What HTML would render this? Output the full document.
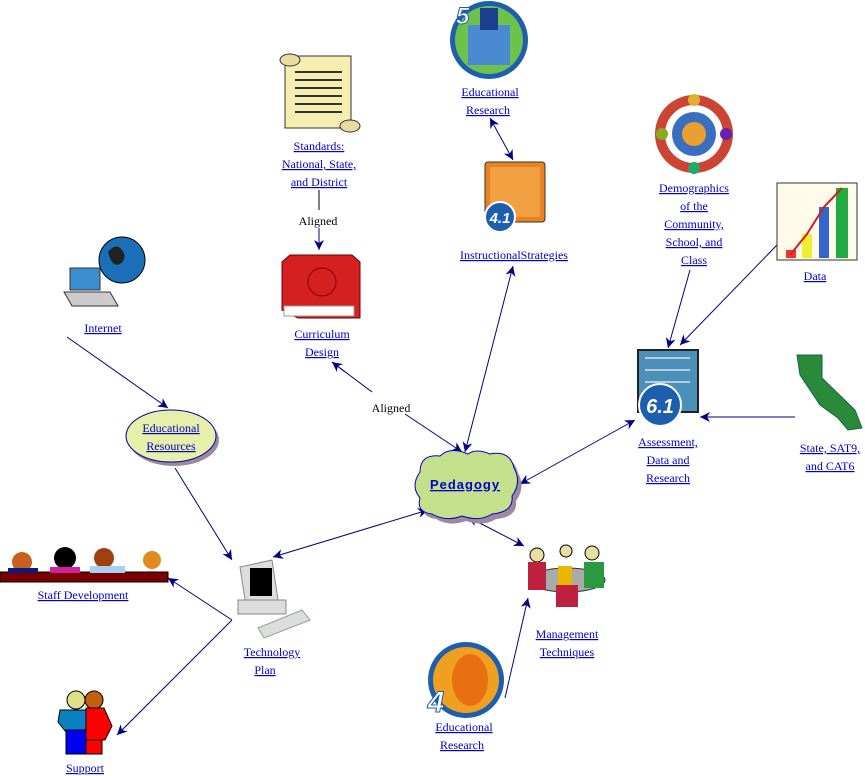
<!DOCTYPE html>
<html><head><meta charset="utf-8"><style>
html,body{margin:0;padding:0;background:#fff;}
svg{display:block;}
.l{font-family:"Liberation Serif",serif;font-size:12px;fill:#0000cc;text-decoration:underline;text-anchor:middle;}
.k{font-family:"Liberation Serif",serif;font-size:12px;fill:#000;text-anchor:middle;}
.c{stroke:#000080;stroke-width:1;fill:none;}
</style></head><body>
<svg width="865" height="776" viewBox="0 0 865 776" xmlns="http://www.w3.org/2000/svg">
<defs>
<marker id="a" viewBox="0 0 10 10" refX="10" refY="5" markerWidth="14" markerHeight="10" orient="auto-start-reverse" markerUnits="userSpaceOnUse"><path d="M0,0 L10,5 L0,10 L3,5 z" fill="#000080"/></marker>
</defs>

<!-- connectors -->
<line class="c" x1="490" y1="118" x2="513" y2="160" marker-start="url(#a)" marker-end="url(#a)"/>
<line class="c" x1="513" y1="266" x2="465" y2="452" marker-start="url(#a)" marker-end="url(#a)"/>
<line class="c" x1="332" y1="362" x2="372" y2="392"/>
<line class="c" x1="405" y1="414" x2="462" y2="452" marker-end="url(#a)"/>
<line class="c" x1="332" y1="362" x2="345" y2="372" marker-start="url(#a)"/>
<line class="c" x1="690" y1="270" x2="668" y2="348" marker-end="url(#a)"/>
<line class="c" x1="777" y1="245" x2="680" y2="345" marker-end="url(#a)"/>
<line class="c" x1="795" y1="417" x2="700" y2="417" marker-end="url(#a)"/>
<line class="c" x1="635" y1="420" x2="520" y2="484" marker-start="url(#a)" marker-end="url(#a)"/>
<line class="c" x1="67" y1="337" x2="168" y2="408" marker-end="url(#a)"/>
<line class="c" x1="175" y1="468" x2="232" y2="560" marker-end="url(#a)"/>
<line class="c" x1="428" y1="510" x2="273" y2="557" marker-start="url(#a)" marker-end="url(#a)"/>
<line class="c" x1="468" y1="517" x2="524" y2="546" marker-start="url(#a)" marker-end="url(#a)"/>
<line class="c" x1="232" y1="620" x2="168" y2="578" marker-end="url(#a)"/>
<line class="c" x1="232" y1="620" x2="117" y2="735" marker-end="url(#a)"/>
<line class="c" x1="505" y1="698" x2="528" y2="598" marker-end="url(#a)"/>
<line x1="319" y1="190" x2="319" y2="210" stroke="#000" stroke-width="1"/>
<line class="c" x1="319" y1="228" x2="319" y2="250" marker-end="url(#a)"/>
<text class="k" x="318" y="225">Aligned</text>
<text class="k" x="391" y="412">Aligned</text>

<!-- Ed research top icon -->
<circle cx="489" cy="40" r="39" fill="#1d5fae"/>
<circle cx="489" cy="40" r="34" fill="#6cc24a"/>
<rect x="468" y="25" width="42" height="40" fill="#4a8ad0"/>
<rect x="480" y="8" width="18" height="22" fill="#1a3f8f"/>
<text x="456" y="24" font-family="Liberation Sans,sans-serif" font-size="24" font-weight="bold" font-style="italic" fill="#fff" stroke="#1d5fae">5</text>
<text class="l" x="490" y="96">Educational</text>
<text class="l" x="488" y="114">Research</text>

<!-- instructional strategies -->
<rect x="485" y="162" width="60" height="60" rx="3" fill="#e8831f" stroke="#333"/>
<rect x="490" y="167" width="50" height="50" fill="#f0a040"/>
<circle cx="500" cy="217" r="15" fill="#1d5fae" stroke="#fff" stroke-width="2"/>
<text x="500" y="223" font-family="Liberation Sans,sans-serif" font-size="15" font-weight="bold" font-style="italic" fill="#fff" text-anchor="middle">4.1</text>
<text class="l" x="514" y="259">InstructionalStrategies</text>

<!-- standards scroll -->
<rect x="285" y="56" width="66" height="72" fill="#f6eeb0" stroke="#333"/>
<ellipse cx="290" cy="60" rx="10" ry="6" fill="#e8dca0" stroke="#333"/>
<ellipse cx="350" cy="126" rx="10" ry="6" fill="#e8dca0" stroke="#333"/>
<g stroke="#333" stroke-width="2"><line x1="295" y1="72" x2="342" y2="72"/><line x1="295" y1="80" x2="342" y2="80"/><line x1="295" y1="88" x2="342" y2="88"/><line x1="295" y1="96" x2="342" y2="96"/><line x1="295" y1="104" x2="342" y2="104"/><line x1="295" y1="112" x2="342" y2="112"/></g>
<text class="l" x="319" y="150">Standards:</text>
<text class="l" x="319" y="168">National, State,</text>
<text class="l" x="319" y="186">and District</text>

<!-- curriculum book -->
<polygon points="290,255 352,255 360,262 360,318 298,318 282,310 282,262" fill="#d42020" stroke="#600"/>
<rect x="284" y="306" width="70" height="10" fill="#fff" stroke="#999"/>
<circle cx="322" cy="282" r="14" fill="none" stroke="#800" />
<text class="l" x="322" y="338">Curriculum</text>
<text class="l" x="322" y="356">Design</text>

<!-- demographics -->
<circle cx="694" cy="134" r="34" fill="none" stroke="#c43" stroke-width="10"/>
<circle cx="694" cy="134" r="22" fill="#3a6fc0"/>
<circle cx="694" cy="134" r="12" fill="#e8a030"/>
<circle cx="694" cy="100" r="6" fill="#e0b030"/><circle cx="662" cy="134" r="6" fill="#8a2"/><circle cx="726" cy="134" r="6" fill="#62a"/><circle cx="694" cy="168" r="6" fill="#2a6"/>
<text class="l" x="694" y="192">Demographics</text>
<text class="l" x="694" y="210">of the</text>
<text class="l" x="694" y="228">Community,</text>
<text class="l" x="694" y="246">School, and</text>
<text class="l" x="694" y="264">Class</text>

<!-- data chart -->
<rect x="777" y="183" width="80" height="77" fill="#fffbe8" stroke="#333"/>
<rect x="786" y="250" width="10" height="8" fill="#e33"/>
<rect x="802" y="234" width="10" height="24" fill="#ee3"/>
<rect x="819" y="207" width="10" height="51" fill="#36c"/>
<rect x="836" y="188" width="12" height="70" fill="#2a4"/>
<polyline points="790,255 807,234 824,207 842,188" stroke="#c22" stroke-width="2" fill="none"/>
<text class="l" x="815" y="280">Data</text>

<!-- assessment -->
<rect x="638" y="350" width="60" height="62" fill="#4a90b8" stroke="#222" stroke-width="2"/>
<g stroke="#dde" stroke-width="1.5"><line x1="645" y1="358" x2="690" y2="358"/><line x1="645" y1="370" x2="690" y2="370"/><line x1="645" y1="382" x2="690" y2="382"/></g>
<circle cx="660" cy="405" r="21" fill="#1d5fae" stroke="#fff" stroke-width="2"/>
<text x="660" y="413" font-family="Liberation Sans,sans-serif" font-size="20" font-weight="bold" font-style="italic" fill="#fff" text-anchor="middle">6.1</text>
<text class="l" x="668" y="446">Assessment,</text>
<text class="l" x="668" y="464">Data and</text>
<text class="l" x="668" y="482">Research</text>

<!-- california -->
<polygon points="797,355 822,355 822,378 855,410 862,428 848,430 838,418 820,405 810,390 800,375" fill="#2a8a3a" stroke="#164"/>
<text class="l" x="830" y="452">State, SAT9,</text>
<text class="l" x="830" y="470">and CAT6</text>

<!-- internet -->
<circle cx="122" cy="260" r="23" fill="#1b6fb8" stroke="#000"/>
<path d="M108,252 q8,-10 14,-2 q6,8 -2,14 q-8,4 -12,-12z" fill="#222"/>
<polygon points="70,268 100,268 100,290 70,290" fill="#3a8fd0" stroke="#333"/>
<polygon points="64,292 110,292 118,306 72,306" fill="#ccc" stroke="#333"/>
<text class="l" x="103" y="332">Internet</text>

<!-- educational resources -->
<ellipse cx="174" cy="440" rx="45" ry="26" fill="#9a8a9a"/>
<ellipse cx="171" cy="436" rx="45" ry="26" fill="#e6f0a8" stroke="#0000aa"/>
<text class="l" x="171" y="432">Educational</text>
<text class="l" x="171" y="450">Resources</text>

<!-- pedagogy cloud -->
<g transform="translate(4,5)"><path d="M420,472 q0,-18 20,-16 q10,-10 28,-2 q8,-6 22,0 q20,-4 24,14 q8,14 -2,28 q2,16 -20,18 q-12,8 -30,2 q-16,6 -30,-2 q-16,-2 -12,-16 q-10,-12 0,-26z" fill="#9a8a9a"/></g>
<path d="M420,472 q0,-18 20,-16 q10,-10 28,-2 q8,-6 22,0 q20,-4 24,14 q8,14 -2,28 q2,16 -20,18 q-12,8 -30,2 q-16,6 -30,-2 q-16,-2 -12,-16 q-10,-12 0,-26z" fill="#c4e08a" stroke="#0000cc"/>
<text x="465" y="489" font-family="Liberation Sans,sans-serif" font-size="13" font-weight="bold" fill="#0000cc" text-anchor="middle" text-decoration="underline" letter-spacing="1">Pedagogy</text>

<!-- technology plan -->
<polygon points="240,567 272,560 278,600 246,606" fill="#ddd" stroke="#888"/>
<rect x="250" y="568" width="22" height="28" fill="#000"/>
<rect x="238" y="600" width="48" height="14" fill="#ddd" stroke="#888"/>
<polygon points="258,628 302,610 310,620 264,638" fill="#ddd" stroke="#8a8"/>
<text class="l" x="272" y="656">Technology</text>
<text class="l" x="265" y="674">Plan</text>

<!-- staff development -->
<g>
<rect x="0" y="572" width="168" height="10" fill="#7a0000" stroke="#000"/>
<circle cx="22" cy="562" r="10" fill="#c86020"/><rect x="8" y="568" width="30" height="5" fill="#0a1a80"/>
<circle cx="65" cy="558" r="11" fill="#000"/><rect x="50" y="567" width="30" height="6" fill="#d020a0"/>
<circle cx="104" cy="558" r="10" fill="#a04010"/><rect x="90" y="566" width="35" height="7" fill="#a8d0f0"/>
<circle cx="152" cy="560" r="9" fill="#e08a20"/>
</g>
<text class="l" x="83" y="599">Staff Development</text>

<!-- support -->
<circle cx="76" cy="700" r="9" fill="#e0e088" stroke="#000"/>
<circle cx="94" cy="700" r="9" fill="#c06010" stroke="#000"/>
<polygon points="60,710 88,710 92,732 66,732 58,722" fill="#0a80c0" stroke="#000"/>
<rect x="66" y="730" width="20" height="24" fill="#0000f0" stroke="#000"/>
<polygon points="86,708 104,708 112,726 105,740 86,740" fill="#f00" stroke="#000"/>
<rect x="86" y="740" width="16" height="14" fill="#f00" stroke="#000"/>
<text class="l" x="85" y="772">Support</text>

<!-- management -->
<ellipse cx="567" cy="580" rx="38" ry="12" fill="#aaa" stroke="#333"/>
<circle cx="537" cy="555" r="7" fill="#e8e0a0" stroke="#000"/><rect x="528" y="562" width="18" height="28" fill="#c02040"/>
<circle cx="566" cy="551" r="6" fill="#e8e0a0" stroke="#000"/><rect x="558" y="566" width="14" height="30" fill="#e8b800"/>
<circle cx="592" cy="553" r="7" fill="#e8e0a0" stroke="#000"/><rect x="584" y="562" width="20" height="26" fill="#2a9a40"/>
<rect x="556" y="585" width="22" height="22" fill="#c02040"/>
<text class="l" x="567" y="638">Management</text>
<text class="l" x="567" y="656">Techniques</text>

<!-- ed research bottom -->
<circle cx="466" cy="680" r="38" fill="#1d5fae"/>
<circle cx="466" cy="680" r="33" fill="#f0a020"/>
<ellipse cx="470" cy="680" rx="18" ry="26" fill="#e87010"/>
<text x="436" y="712" font-family="Liberation Sans,sans-serif" font-size="30" font-weight="bold" font-style="italic" fill="#fff" stroke="#1d5fae" text-anchor="middle">4</text>
<text class="l" x="464" y="731">Educational</text>
<text class="l" x="462" y="749">Research</text>
</svg>
</body></html>
